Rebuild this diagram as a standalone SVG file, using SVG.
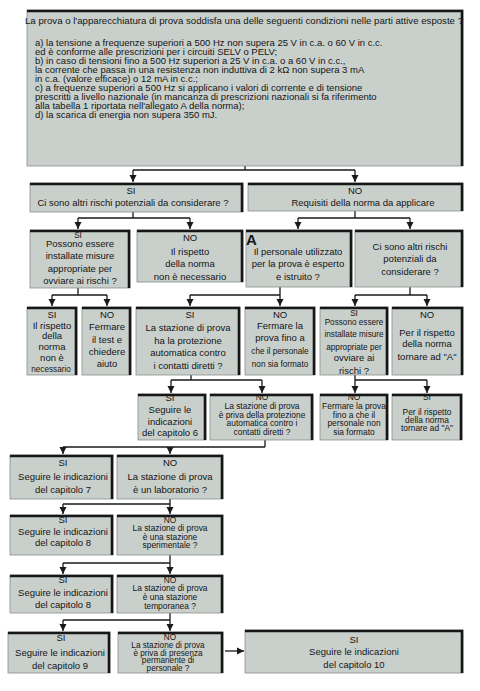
<svg xmlns="http://www.w3.org/2000/svg" width="480" height="691" viewBox="0 0 480 691">
<defs>
<style>
.bg{fill:#ffffff}
.box{fill:#c9d0cc;stroke:#8a8f8c;stroke-width:0.8}
.edge{fill:none;stroke:#161616;stroke-width:2.6}
text{font-family:"Liberation Sans",Arial,sans-serif;font-size:9.5px;fill:#141414}
.c{text-anchor:middle}
.t{font-size:8.4px}
.s{font-size:8.2px}
.big{font-size:15px;font-weight:bold}
.con{fill:none;stroke:#1a1a1a;stroke-width:1.3}
.arr{fill:none;stroke:#1a1a1a;stroke-width:1.3;marker-end:url(#ah)}
</style>
<marker id="ah" markerUnits="userSpaceOnUse" markerWidth="8" markerHeight="8" refX="7" refY="4" orient="auto">
<path d="M0,0.5 L7,4 L0,7.5 Z" fill="#1a1a1a"/>
</marker>
</defs>
<rect class="bg" x="0" y="0" width="480" height="691"/>

<g id="connectors">
<path class="con" d="M245,166 V170 M133,170 H355"/>
<path class="arr" d="M133,170 V182"/>
<path class="arr" d="M355,170 V182"/>
<path class="con" d="M133,212 V218 M78,218 H190"/>
<path class="arr" d="M78,218 V229"/>
<path class="arr" d="M190,218 V229"/>
<path class="con" d="M355,211 V218 M298,218 H410"/>
<path class="arr" d="M298,218 V229"/>
<path class="arr" d="M410,218 V229"/>
<path class="con" d="M78,288 V295 M52,295 H107"/>
<path class="arr" d="M52,295 V306"/>
<path class="arr" d="M107,295 V306"/>
<path class="con" d="M280,287 V295 M190,295 H280"/>
<path class="arr" d="M190,295 V306"/>
<path class="arr" d="M280,295 V306"/>
<path class="con" d="M410,287 V295 M355,295 H427"/>
<path class="arr" d="M355,295 V306"/>
<path class="arr" d="M427,295 V306"/>
<path class="con" d="M191,375 V380 M171,380 H262"/>
<path class="arr" d="M171,380 V393"/>
<path class="arr" d="M262,380 V393"/>
<path class="con" d="M355,375 V380 M355,380 H427"/>
<path class="arr" d="M355,380 V393"/>
<path class="arr" d="M427,380 V393"/>
<path class="con" d="M265,440 V447 M63,447 H265"/>
<path class="arr" d="M63,447 V454"/>
<path class="arr" d="M170,447 V454"/>
<path class="con" d="M170,499 V504 M63,504 H170"/>
<path class="arr" d="M63,504 V514"/>
<path class="arr" d="M170,504 V514"/>
<path class="con" d="M170,555 V563 M63,563 H170"/>
<path class="arr" d="M63,563 V574"/>
<path class="arr" d="M170,563 V574"/>
<path class="con" d="M170,613 V620 M63,620 H170"/>
<path class="arr" d="M63,620 V631"/>
<path class="arr" d="M170,620 V631"/>
<path class="arr" d="M225,651 H244"/>
</g>

<g id="n-top">
<rect class="box" x="27" y="10" width="436" height="156"/>
<path class="edge" d="M27,11 H462 V166"/>
<text x="25" y="24" textLength="438" lengthAdjust="spacingAndGlyphs">La prova o l'apparecchiatura di prova soddisfa una delle seguenti condizioni nelle parti attive esposte ?</text>
<text x="35" y="46">a) la tensione a frequenze superiori a 500 Hz non supera 25 V in c.a. o 60 V in c.c.</text>
<text x="35" y="55">ed è conforme alle prescrizioni per i circuiti SELV o PELV;</text>
<text x="35" y="64">b) in caso di tensioni fino a 500 Hz superiori a 25 V in c.a. o a 60 V in c.c.,</text>
<text x="35" y="73">la corrente che passa in una resistenza non induttiva di 2 kΩ non supera 3 mA</text>
<text x="35" y="82">in c.a. (valore efficace) o 12 mA in c.c.;</text>
<text x="35" y="91">c) a frequenze superiori a 500 Hz si applicano i valori di corrente e di tensione</text>
<text x="35" y="100">prescritti a livello nazionale (in mancanza di prescrizioni nazionali si fa riferimento</text>
<text x="35" y="109">alla tabella 1 riportata nell'allegato A della norma);</text>
<text x="35" y="118">d) la scarica di energia non supera 350 mJ.</text>
</g>

<g id="n-s1">
<rect class="box" x="30" y="183" width="213" height="29"/>
<path class="edge" d="M30,184 H242 V212"/>
<text class="c" x="131" y="194">SI</text>
<text class="c" x="133" y="206">Ci sono altri rischi potenziali da considerare ?</text>
</g>
<g id="n-s2">
<rect class="box" x="248" y="183" width="215" height="28"/>
<path class="edge" d="M248,184 H462 V211"/>
<text class="c" x="355" y="194">NO</text>
<text class="c" x="363" y="206">Requisiti della norma da applicare</text>
</g>

<g id="n-a1">
<rect class="box" x="30" y="230" width="100" height="58"/>
<path class="edge" d="M30,231 H129 V288"/>
<text class="c s" x="78" y="238">SI</text>
<text class="c" x="80" y="247">Possono essere</text>
<text class="c" x="80" y="259">installate misure</text>
<text class="c" x="80" y="272">appropriate per</text>
<text class="c" x="80" y="284">ovviare ai rischi ?</text>
</g>
<g id="n-a2">
<rect class="box" x="137" y="230" width="106" height="52"/>
<path class="edge" d="M137,231 H242 V282"/>
<text class="c" x="190" y="241">NO</text>
<text class="c" x="190" y="255">Il rispetto</text>
<text class="c" x="190" y="267">della norma</text>
<text class="c" x="190" y="280">non è necessario</text>
</g>
<g id="n-a3">
<rect class="box" x="246" y="230" width="106" height="57"/>
<path class="edge" d="M246,231 H351 V287"/>
<text class="big" x="246" y="245">A</text>
<text class="c" x="298" y="255">Il personale utilizzato</text>
<text class="c" x="298" y="267">per la prova è esperto</text>
<text class="c" x="298" y="280">e istruito ?</text>
</g>
<g id="n-a4">
<rect class="box" x="355" y="230" width="108" height="57"/>
<path class="edge" d="M355,231 H462 V287"/>
<text class="c" x="410" y="250">Ci sono altri rischi</text>
<text class="c" x="410" y="262">potenziali da</text>
<text class="c" x="410" y="275">considerare ?</text>
</g>

<g id="n-b1">
<rect class="box" x="27" y="307" width="50" height="68"/>
<path class="edge" d="M27,308 H76 V375"/>
<text class="c" x="52" y="318">SI</text>
<text class="c" x="52" y="329">Il rispetto</text>
<text class="c" x="52" y="339">della</text>
<text class="c" x="52" y="350">norma</text>
<text class="c" x="52" y="361">non è</text>
<text class="c s" x="51" y="372">necessario</text>
</g>
<g id="n-b2">
<rect class="box" x="82" y="307" width="49" height="68"/>
<path class="edge" d="M82,308 H130 V375"/>
<text class="c" x="107" y="318">NO</text>
<text class="c" x="107" y="330">Fermare</text>
<text class="c" x="107" y="343">il test e</text>
<text class="c" x="107" y="355">chiedere</text>
<text class="c" x="107" y="367">aiuto</text>
</g>
<g id="n-b3">
<rect class="box" x="136" y="307" width="104" height="68"/>
<path class="edge" d="M136,308 H239 V375"/>
<text class="c" x="190" y="318">SI</text>
<text class="c" x="188" y="331">La stazione di prova</text>
<text class="c" x="188" y="344">ha la protezione</text>
<text class="c" x="188" y="356">automatica contro</text>
<text class="c" x="188" y="369">i contatti diretti ?</text>
</g>
<g id="n-b4">
<rect class="box" x="245" y="307" width="70" height="68"/>
<path class="edge" d="M245,308 H314 V375"/>
<text class="c" x="280" y="318">NO</text>
<text class="c" x="280" y="329">Fermare la</text>
<text class="c" x="280" y="341">prova fino a</text>
<text class="c s" x="280" y="354">che il personale</text>
<text class="c s" x="280" y="367">non sia formato</text>
</g>
<g id="n-b5">
<rect class="box" x="320" y="307" width="68" height="68"/>
<path class="edge" d="M320,308 H387 V375"/>
<text class="c s" x="354" y="315.5">SI</text>
<text class="c s" x="354" y="325">Possono essere</text>
<text class="c s" x="354" y="337">installate misure</text>
<text class="c s" x="354" y="349.5">appropriate per</text>
<text class="c" x="354" y="361">ovviare ai</text>
<text class="c" x="354" y="373.5">rischi ?</text>
</g>
<g id="n-b6">
<rect class="box" x="392" y="307" width="71" height="68"/>
<path class="edge" d="M392,308 H462 V375"/>
<text class="c" x="427" y="318">NO</text>
<text class="c" x="427" y="335.5">Per il rispetto</text>
<text class="c" x="427" y="347">della norma</text>
<text class="c" x="427" y="359.5">tornare ad "A"</text>
</g>

<g id="n-c1">
<rect class="box" x="138" y="394" width="68" height="46"/>
<path class="edge" d="M138,395 H205 V440"/>
<text class="c" x="170" y="401">SI</text>
<text class="c" x="170" y="413">Seguire le</text>
<text class="c" x="170" y="424.5">indicazioni</text>
<text class="c" x="170" y="436">del capitolo 6</text>
</g>
<g id="n-c2">
<rect class="box" x="210" y="394" width="103" height="46"/>
<path class="edge" d="M210,395 H312 V440"/>
<text class="c t" x="262" y="400">NO</text>
<text class="c t" x="262" y="409">La stazione di prova</text>
<text class="c t" x="262" y="417.5">è priva della protezione</text>
<text class="c t" x="262" y="426">automatica contro i</text>
<text class="c t" x="262" y="434.5">contatti diretti ?</text>
</g>
<g id="n-c3">
<rect class="box" x="320" y="394" width="68" height="46"/>
<path class="edge" d="M320,395 H387 V440"/>
<text class="c t" x="354" y="400">NO</text>
<text class="c t" x="354" y="409">Fermare la prova</text>
<text class="c t" x="354" y="417.5">fino a che il</text>
<text class="c t" x="354" y="426">personale non</text>
<text class="c t" x="354" y="434.5">sia formato</text>
</g>
<g id="n-c4">
<rect class="box" x="392" y="394" width="70" height="46"/>
<path class="edge" d="M392,395 H461 V440"/>
<text class="c t" x="427" y="400">SI</text>
<text class="c t" x="427" y="415">Per il rispetto</text>
<text class="c t" x="427" y="423">della norma</text>
<text class="c t" x="427" y="431">tornare ad "A"</text>
</g>

<g id="n-d1">
<rect class="box" x="10" y="455" width="103" height="44"/>
<path class="edge" d="M10,456 H112 V499"/>
<text class="c" x="63" y="466">SI</text>
<text class="c" x="63" y="479.5">Seguire le indicazioni</text>
<text class="c" x="63" y="493">del capitolo 7</text>
</g>
<g id="n-d2">
<rect class="box" x="117" y="455" width="106" height="44"/>
<path class="edge" d="M117,456 H222 V499"/>
<text class="c" x="170" y="466">NO</text>
<text class="c" x="170" y="479.5">La stazione di prova</text>
<text class="c" x="170" y="493">è un laboratorio ?</text>
</g>

<g id="n-e1">
<rect class="box" x="10" y="515" width="103" height="40"/>
<path class="edge" d="M10,516 H112 V555"/>
<text class="c" x="63" y="523">SI</text>
<text class="c" x="63" y="534.5">Seguire le indicazioni</text>
<text class="c" x="63" y="546">del capitolo 8</text>
</g>
<g id="n-e2">
<rect class="box" x="117" y="515" width="106" height="40"/>
<path class="edge" d="M117,516 H222 V555"/>
<text class="c t" x="170" y="523">NO</text>
<text class="c t" x="170" y="531">La stazione di prova</text>
<text class="c t" x="170" y="539.5">è una stazione</text>
<text class="c t" x="170" y="548">sperimentale ?</text>
</g>

<g id="n-f1">
<rect class="box" x="10" y="575" width="103" height="38"/>
<path class="edge" d="M10,576 H112 V613"/>
<text class="c" x="63" y="583">SI</text>
<text class="c" x="63" y="595.5">Seguire le indicazioni</text>
<text class="c" x="63" y="608">del capitolo 8</text>
</g>
<g id="n-f2">
<rect class="box" x="117" y="575" width="106" height="38"/>
<path class="edge" d="M117,576 H222 V613"/>
<text class="c t" x="170" y="583">NO</text>
<text class="c t" x="170" y="591">La stazione di prova</text>
<text class="c t" x="170" y="599.5">è una stazione</text>
<text class="c t" x="170" y="609">temporanea ?</text>
</g>

<g id="n-g1">
<rect class="box" x="8" y="632" width="102" height="41"/>
<path class="edge" d="M8,633 H109 V673"/>
<text class="c" x="61" y="641">SI</text>
<text class="c" x="60" y="655.5">Seguire le indicazioni</text>
<text class="c" x="60" y="669">del capitolo 9</text>
</g>
<g id="n-g2">
<rect class="box" x="118" y="632" width="105" height="41"/>
<path class="edge" d="M118,633 H222 V673"/>
<text class="c s" x="170" y="640">NO</text>
<text class="c s" x="168" y="648">La stazione di prova</text>
<text class="c s" x="168" y="655.5">è priva di presenza</text>
<text class="c s" x="168" y="663">permanente di</text>
<text class="c s" x="168" y="671">personale ?</text>
</g>
<g id="n-g3">
<rect class="box" x="245" y="630" width="218" height="43"/>
<path class="edge" d="M245,631 H462 V673"/>
<text class="c" x="354" y="643">SI</text>
<text class="c" x="354" y="654.5">Seguire le indicazioni</text>
<text class="c" x="354" y="668">del capitolo 10</text>
</g>
</svg>
